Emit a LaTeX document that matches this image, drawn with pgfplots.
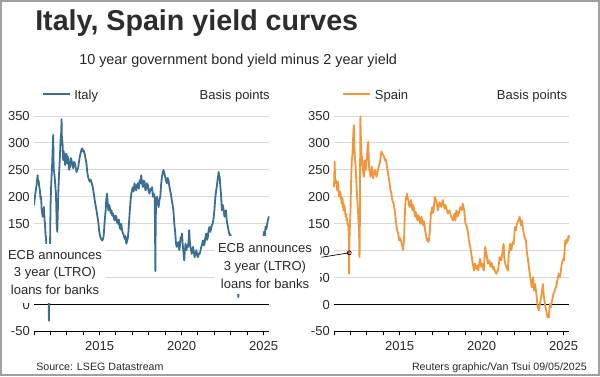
\documentclass[border=0pt]{standalone}
\usepackage{pgfplots}
\usepackage{pgfplotstable}
\pgfplotsset{compat=1.18}
\usepackage{fontspec}
\setmainfont{Liberation Sans}
\definecolor{italy}{RGB}{58,110,146}
\definecolor{spain}{RGB}{242,150,60}
\definecolor{txt}{RGB}{40,40,40}
\definecolor{titlec}{RGB}{45,45,45}
\definecolor{gridc}{RGB}{215,215,215}
\definecolor{framec}{RGB}{160,160,160}

\pgfplotstableread{
year v
2011.00 184
2011.04 196
2011.08 205
2011.12 214
2011.16 222
2011.22 240
2011.25 226
2011.28 230
2011.32 219
2011.36 212
2011.40 196
2011.43 201
2011.47 175
2011.50 170
2011.53 163
2011.57 172
2011.61 181
2011.64 158
2011.67 150
2011.70 130
2011.73 125
2011.77 100
2011.81 80
2011.85 40
2011.89 10
2011.91 -30
2011.93 20
2011.95 60
2011.97 90
2012.01 187
2012.04 215
2012.07 237
2012.10 255
2012.13 280
2012.15 300
2012.17 315
2012.19 270
2012.21 250
2012.25 240
2012.28 230
2012.31 215
2012.34 206
2012.36 180
2012.38 150
2012.42 135
2012.45 170
2012.48 206
2012.51 230
2012.54 250
2012.58 275
2012.62 305
2012.66 320
2012.68 344
2012.70 310
2012.74 300
2012.78 268
2012.81 285
2012.84 274
2012.87 280
2012.90 259
2012.94 272
2012.98 280
2013.02 262
2013.05 275
2013.09 268
2013.14 250
2013.19 256
2013.24 272
2013.29 268
2013.34 258
2013.39 253
2013.44 265
2013.49 262
2013.54 255
2013.59 246
2013.64 250
2013.69 253
2013.74 265
2013.79 274
2013.84 281
2013.89 287
2013.94 290
2014.00 284
2014.05 285
2014.10 278
2014.15 270
2014.20 262
2014.25 245
2014.30 237
2014.35 232
2014.40 228
2014.45 232
2014.50 228
2014.55 222
2014.60 215
2014.65 205
2014.70 194
2014.75 185
2014.81 175
2014.86 165
2014.91 156
2014.97 138
2015.01 130
2015.05 125
2015.11 121
2015.17 119
2015.21 122
2015.25 128
2015.30 150
2015.34 165
2015.37 175
2015.41 196
2015.45 206
2015.49 190
2015.53 175
2015.57 185
2015.62 181
2015.67 170
2015.72 175
2015.77 165
2015.82 169
2015.87 160
2015.92 156
2015.97 165
2016.02 163
2016.07 152
2016.12 150
2016.17 158
2016.22 144
2016.27 140
2016.32 150
2016.37 138
2016.43 132
2016.48 128
2016.53 122
2016.58 127
2016.63 113
2016.68 118
2016.73 125
2016.78 145
2016.83 169
2016.88 190
2016.93 206
2016.98 212
2017.03 218
2017.08 210
2017.13 225
2017.18 218
2017.23 212
2017.28 222
2017.34 225
2017.39 215
2017.44 231
2017.49 225
2017.54 240
2017.59 225
2017.64 218
2017.69 230
2017.74 228
2017.79 212
2017.84 215
2017.89 225
2017.94 222
2017.99 210
2018.04 206
2018.10 215
2018.15 212
2018.20 218
2018.25 200
2018.30 206
2018.36 200
2018.38 140
2018.40 62
2018.42 150
2018.44 187
2018.47 195
2018.50 200
2018.55 188
2018.60 181
2018.65 195
2018.70 200
2018.75 222
2018.80 237
2018.85 245
2018.90 250
2018.95 243
2019.00 237
2019.05 230
2019.10 225
2019.15 235
2019.20 231
2019.25 220
2019.30 212
2019.35 205
2019.40 194
2019.45 185
2019.50 175
2019.54 156
2019.57 145
2019.60 138
2019.63 125
2019.66 113
2019.70 107
2019.75 112
2019.80 116
2019.83 108
2019.86 101
2019.90 110
2019.94 125
2019.98 120
2020.02 132
2020.06 115
2020.10 101
2020.13 90
2020.16 82
2020.20 100
2020.24 113
2020.27 105
2020.30 101
2020.35 110
2020.40 107
2020.43 120
2020.46 138
2020.50 118
2020.54 107
2020.58 100
2020.62 94
2020.66 102
2020.70 107
2020.75 96
2020.80 88
2020.85 95
2020.90 101
2020.95 92
2021.00 88
2021.05 95
2021.10 94
2021.15 100
2021.20 107
2021.25 112
2021.30 119
2021.35 110
2021.40 113
2021.45 125
2021.50 132
2021.55 120
2021.60 125
2021.65 138
2021.70 144
2021.75 135
2021.80 141
2021.85 148
2021.90 150
2021.95 160
2022.00 175
2022.03 188
2022.06 200
2022.10 210
2022.14 218
2022.18 228
2022.22 237
2022.26 246
2022.29 240
2022.32 237
2022.36 220
2022.40 206
2022.43 190
2022.46 175
2022.50 185
2022.54 181
2022.58 170
2022.62 163
2022.66 172
2022.70 175
2022.74 160
2022.78 150
2022.82 145
2022.86 138
2022.90 132
2022.94 128
2022.98 130
2023.05 115
2023.15 95
2023.25 70
2023.35 45
2023.42 28
2023.46 14
2023.50 30
2023.60 45
2023.75 55
2023.90 70
2024.05 75
2024.20 82
2024.35 88
2024.50 92
2024.65 98
2024.80 105
2024.90 112
2024.98 125
2025.03 135
2025.08 128
2025.12 145
2025.17 140
2025.22 150
2025.27 158
2025.32 163
2025.35 160
}\italydata

\pgfplotstableread{
year v
2011.00 218
2011.02 240
2011.04 265
2011.06 240
2011.08 225
2011.12 231
2011.16 220
2011.20 212
2011.23 228
2011.26 222
2011.29 205
2011.32 200
2011.36 210
2011.40 206
2011.44 195
2011.47 187
2011.50 198
2011.53 194
2011.57 175
2011.61 185
2011.65 181
2011.68 170
2011.71 163
2011.74 168
2011.77 156
2011.80 160
2011.83 147
2011.86 150
2011.89 140
2011.91 125
2011.92 57
2011.93 96
2011.96 140
2012.01 175
2012.03 210
2012.05 237
2012.07 255
2012.09 268
2012.11 275
2012.13 280
2012.15 300
2012.17 312
2012.19 325
2012.21 333
2012.23 300
2012.26 280
2012.29 265
2012.32 256
2012.35 235
2012.38 218
2012.41 200
2012.44 187
2012.47 170
2012.50 150
2012.53 130
2012.55 88
2012.57 100
2012.59 250
2012.61 349
2012.63 320
2012.66 290
2012.68 270
2012.70 260
2012.72 275
2012.74 256
2012.78 245
2012.82 237
2012.85 255
2012.88 268
2012.91 258
2012.94 250
2012.98 265
2013.02 280
2013.05 295
2013.09 302
2013.12 270
2013.15 250
2013.19 245
2013.23 237
2013.27 248
2013.31 256
2013.35 245
2013.39 234
2013.44 242
2013.49 250
2013.54 245
2013.59 237
2013.64 245
2013.69 250
2013.74 258
2013.79 262
2013.84 272
2013.89 284
2013.94 280
2014.00 278
2014.05 275
2014.10 268
2014.15 270
2014.20 262
2014.25 252
2014.30 243
2014.33 236
2014.36 231
2014.40 222
2014.44 212
2014.47 210
2014.50 206
2014.53 200
2014.56 194
2014.60 190
2014.64 187
2014.67 180
2014.70 175
2014.74 165
2014.77 156
2014.81 145
2014.85 138
2014.88 135
2014.91 132
2014.94 125
2014.97 119
2015.01 124
2015.05 122
2015.09 118
2015.13 113
2015.17 108
2015.21 101
2015.24 110
2015.27 119
2015.30 150
2015.33 175
2015.36 190
2015.39 200
2015.42 195
2015.45 206
2015.49 198
2015.53 194
2015.57 185
2015.62 181
2015.66 190
2015.70 194
2015.74 182
2015.78 175
2015.82 185
2015.86 181
2015.90 170
2015.94 163
2015.98 172
2016.02 169
2016.06 160
2016.10 156
2016.14 166
2016.18 163
2016.22 155
2016.26 150
2016.30 160
2016.34 163
2016.38 152
2016.43 147
2016.47 155
2016.51 150
2016.55 140
2016.59 132
2016.63 125
2016.67 119
2016.71 122
2016.75 116
2016.79 120
2016.83 132
2016.87 150
2016.91 169
2016.95 175
2016.99 181
2017.03 170
2017.07 175
2017.11 188
2017.15 200
2017.19 192
2017.23 194
2017.28 185
2017.34 175
2017.39 182
2017.44 190
2017.49 186
2017.54 181
2017.59 188
2017.64 194
2017.69 185
2017.74 178
2017.79 185
2017.84 181
2017.89 175
2017.94 169
2017.99 172
2018.04 175
2018.10 168
2018.15 163
2018.20 160
2018.25 156
2018.30 162
2018.35 169
2018.40 156
2018.46 175
2018.50 168
2018.54 163
2018.58 172
2018.62 169
2018.66 176
2018.70 181
2018.75 178
2018.80 175
2018.83 182
2018.86 187
2018.90 180
2018.94 175
2018.98 160
2019.02 150
2019.06 148
2019.10 144
2019.14 138
2019.18 132
2019.22 120
2019.26 113
2019.30 108
2019.34 101
2019.37 95
2019.40 88
2019.43 82
2019.46 76
2019.50 70
2019.54 63
2019.57 70
2019.60 76
2019.65 70
2019.70 66
2019.75 72
2019.80 63
2019.85 75
2019.90 85
2019.93 78
2019.96 70
2020.00 74
2020.04 76
2020.09 68
2020.14 63
2020.18 85
2020.22 107
2020.26 100
2020.30 94
2020.34 85
2020.38 76
2020.42 80
2020.46 82
2020.50 75
2020.54 70
2020.58 78
2020.62 76
2020.66 70
2020.70 66
2020.75 70
2020.80 63
2020.85 60
2020.90 57
2020.95 62
2021.00 63
2021.05 75
2021.10 88
2021.15 85
2021.20 82
2021.23 88
2021.26 94
2021.30 105
2021.34 113
2021.37 95
2021.40 82
2021.45 75
2021.50 70
2021.55 66
2021.60 63
2021.63 80
2021.66 94
2021.70 105
2021.74 113
2021.78 106
2021.82 101
2021.86 110
2021.90 116
2021.93 112
2021.96 113
2022.00 130
2022.04 144
2022.07 140
2022.10 138
2022.13 145
2022.16 150
2022.20 153
2022.24 156
2022.28 158
2022.32 163
2022.36 155
2022.40 147
2022.43 152
2022.46 156
2022.50 145
2022.54 138
2022.58 130
2022.62 125
2022.66 122
2022.70 119
2022.74 105
2022.78 94
2022.82 85
2022.86 76
2022.90 65
2022.94 57
2022.97 50
2023.00 45
2023.03 38
2023.06 32
2023.10 40
2023.14 51
2023.17 38
2023.20 26
2023.23 32
2023.26 38
2023.30 28
2023.34 20
2023.38 8
2023.42 -5
2023.46 -8
2023.50 -11
2023.54 -2
2023.58 7
2023.62 12
2023.66 20
2023.70 30
2023.74 38
2023.77 25
2023.80 14
2023.83 8
2023.86 1
2023.90 -5
2023.94 -11
2023.98 -18
2024.02 -24
2024.06 -20
2024.10 -24
2024.13 -10
2024.16 1
2024.19 -3
2024.22 -5
2024.26 2
2024.30 7
2024.34 14
2024.38 20
2024.42 22
2024.46 26
2024.50 30
2024.54 32
2024.58 38
2024.62 45
2024.66 52
2024.70 57
2024.74 54
2024.78 51
2024.82 60
2024.86 70
2024.90 76
2024.94 82
2024.98 85
2025.02 82
2025.06 100
2025.10 119
2025.14 116
2025.18 113
2025.22 122
2025.26 118
2025.30 128
2025.34 124
}\spaindata

\pgfplotsset{
  panel/.style={
    scale only axis, width=176.5pt, height=161.6pt, anchor=south west,
    xmin=2011, xmax=2025.35, ymin=-50, ymax=350,
    axis x line*=bottom, axis y line*=left,
    y axis line style={draw=none},
    x axis line style={black, line width=0.9pt, -},
    xtick={2015,2020,2025}, minor xtick={2011,...,2025},
    ytick={-50,0,50,...,350},
    ymajorgrids, grid style={gridc, line width=0.75pt},
    tick align=outside,
    major tick length=3pt, minor tick length=3pt,
    xtick style={black, line width=0.75pt},
    ytick style={draw=none},
    tick label style={font=\fontsize{9.75}{10}\selectfont, text=txt},
    xticklabel style={inner sep=0pt, anchor=north, yshift=-4.5pt},
    yticklabel style={inner sep=0pt, anchor=east},
    /pgf/number format/assume math mode=true,
    /pgf/number format/1000 sep={},
  }
}

\begin{document}
\begin{tikzpicture}
\useasboundingbox (0,0) rectangle (450pt,282pt);
\fill[white] (0,0) rectangle (450pt,282pt);
\node[anchor=base west, inner sep=0pt, text=titlec, font=\bfseries\fontsize{21.5}{24}\selectfont] at (26.25pt,259.5pt) {Italy, Spain yield curves};
\node[anchor=base west, inner sep=0pt, text=txt, font=\fontsize{10.8}{12}\selectfont] at (59.25pt,233.25pt) {10 year government bond yield minus 2 year yield};

\begin{axis}[panel, at={(25.5pt,33.4pt)}]
\addplot[black, line width=0.9pt, forget plot] coordinates {(2011,0) (2025.35,0)};
\addplot[italy, line width=1.35pt, line join=round] table[x=year, y=v] {\italydata};
\end{axis}

\begin{axis}[panel, at={(250.5pt,33.4pt)}, clip=false]
\addplot[black, line width=0.9pt, forget plot] coordinates {(2011,0) (2025.35,0)};
\addplot[spain, line width=1.35pt, line join=round] table[x=year, y=v] {\spaindata};
\draw[black, line width=0.5pt] (axis cs:2011.93,96) -- ++(-20.7pt,-3.3pt);
\addplot[only marks, mark=o, mark size=1.5pt, black, mark options={fill=white, line width=0.5pt}] coordinates {(2011.93,96)};
\end{axis}

% legends
\draw[italy, line width=1.6pt] (32pt,211.5pt) -- (52.5pt,211.5pt);
\node[anchor=base west, inner sep=0pt, text=txt, font=\fontsize{9.75}{10}\selectfont] at (55.5pt,207.4pt) {Italy};
\node[anchor=base east, inner sep=0pt, text=txt, font=\fontsize{9.75}{10}\selectfont] at (202.5pt,207.4pt) {Basis points};
\draw[spain, line width=1.6pt] (257pt,211.5pt) -- (277.5pt,211.5pt);
\node[anchor=base west, inner sep=0pt, text=txt, font=\fontsize{9.75}{10}\selectfont] at (281pt,207.4pt) {Spain};
\node[anchor=base east, inner sep=0pt, text=txt, font=\fontsize{9.75}{10}\selectfont] at (425.5pt,207.4pt) {Basis points};

% annotation boxes
\fill[white] (0pt,55.1pt) rectangle (79.5pt,99pt);
\fill[white] (161.25pt,61.5pt) rectangle (240pt,105pt);
\begin{scope}[every node/.style={anchor=base, inner sep=0pt, text=txt, font=\fontsize{9.75}{10}\selectfont}]
\node at (41.25pt,87.75pt) {ECB announces};
\node at (41.25pt,74.6pt) {3 year (LTRO)};
\node at (41.25pt,61.1pt) {loans for banks};
\node at (198.75pt,92.6pt) {ECB announces};
\node at (198.75pt,79.5pt) {3 year (LTRO)};
\node at (198.75pt,66pt) {loans for banks};
\end{scope}

% footer
\node[anchor=base west, inner sep=0pt, text=txt, font=\fontsize{8}{9}\selectfont] at (27pt,3.9pt) {Source: LSEG Datastream};
\node[anchor=base east, inner sep=0pt, text=txt, font=\fontsize{8}{9}\selectfont] at (440.25pt,3.9pt) {Reuters graphic/Van Tsui 09/05/2025};

\draw[framec, line width=1.1pt] (0.6pt,0.6pt) rectangle (449.4pt,281.4pt);
\end{tikzpicture}
\end{document}
